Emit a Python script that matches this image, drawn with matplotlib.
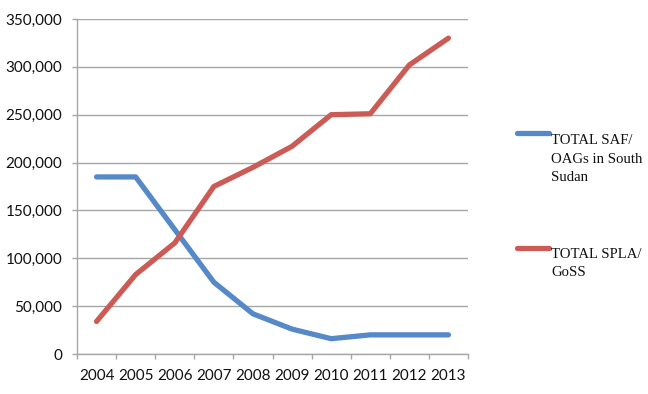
import matplotlib
matplotlib.use("Agg")
import matplotlib.pyplot as plt
from matplotlib.lines import Line2D
from matplotlib.ticker import FuncFormatter, MultipleLocator, FixedLocator, NullFormatter
import numpy as np

years = ["2004", "2005", "2006", "2007", "2008", "2009", "2010", "2011", "2012", "2013"]
saf_oags = [185000, 185000, 130000, 75000, 42000, 26000, 16000, 20000, 20000, 20000]
spla_goss = [34000, 83000, 116000, 175000, 195000, 217000, 250000, 251000, 302000, 330000]
label_saf = ["TOTAL SAF/", "OAGs in South", "Sudan"]
label_spla = ["TOTAL SPLA/", "GoSS"]

blue = "#5689C7"
red = "#CD5B55"
grid_c = "#A6A6A6"

fig = plt.figure(figsize=(6.48, 3.94), dpi=100)
ax = fig.add_axes([77/648, 40/394, (468-77)/648, (354-19)/394])

x = np.arange(len(years))
l1, = ax.plot(x, saf_oags, color=blue, lw=3.8, solid_capstyle="round", solid_joinstyle="round")
l2, = ax.plot(x, spla_goss, color=red, lw=3.8, solid_capstyle="round", solid_joinstyle="round")

ax.set_xlim(-0.5, len(years) - 0.5)
ax.set_ylim(0, 350000)
ax.yaxis.set_major_locator(MultipleLocator(50000))
ax.yaxis.set_major_formatter(FuncFormatter(lambda v, p: f"{int(v):,}"))
ax.set_xticks(x)
ax.set_xticklabels(years)
ax.tick_params(axis="x", which="major", length=0, pad=11)
ax.xaxis.set_minor_locator(FixedLocator(np.arange(-0.5, len(years), 1.0)))
ax.xaxis.set_minor_formatter(NullFormatter())
ax.tick_params(axis="x", which="minor", length=3.6, color=grid_c, width=1)
ax.tick_params(axis="y", length=3.6, color=grid_c, width=1, pad=7)
for lab in ax.get_xticklabels() + ax.get_yticklabels():
    lab.set_fontfamily("Lato")
    lab.set_fontsize(11)
    lab.set_color("#111111")

ax.grid(axis="y", color=grid_c, lw=1)
ax.set_axisbelow(True)
for s in ["top", "right"]:
    ax.spines[s].set_visible(False)
for s in ["left", "bottom"]:
    ax.spines[s].set_color(grid_c)
    ax.spines[s].set_linewidth(1)

# legend (manual layout to match the reference)
for line, lines, yh, yt in [(l1, label_saf, 133, 144), (l2, label_spla, 248, 258)]:
    fig.add_artist(Line2D([517/648, 549/648], [1 - yh/394, 1 - yh/394], transform=fig.transFigure,
                          color=line.get_color(), lw=3.8, solid_capstyle="round"))
    for i, t in enumerate(lines):
        fig.text(551/648, 1 - (yt + 18.5 * i)/394, t, family="Liberation Serif", fontsize=10.6,
                 va="baseline", ha="left", color="#111111")

fig.savefig("out.png", dpi=100)
